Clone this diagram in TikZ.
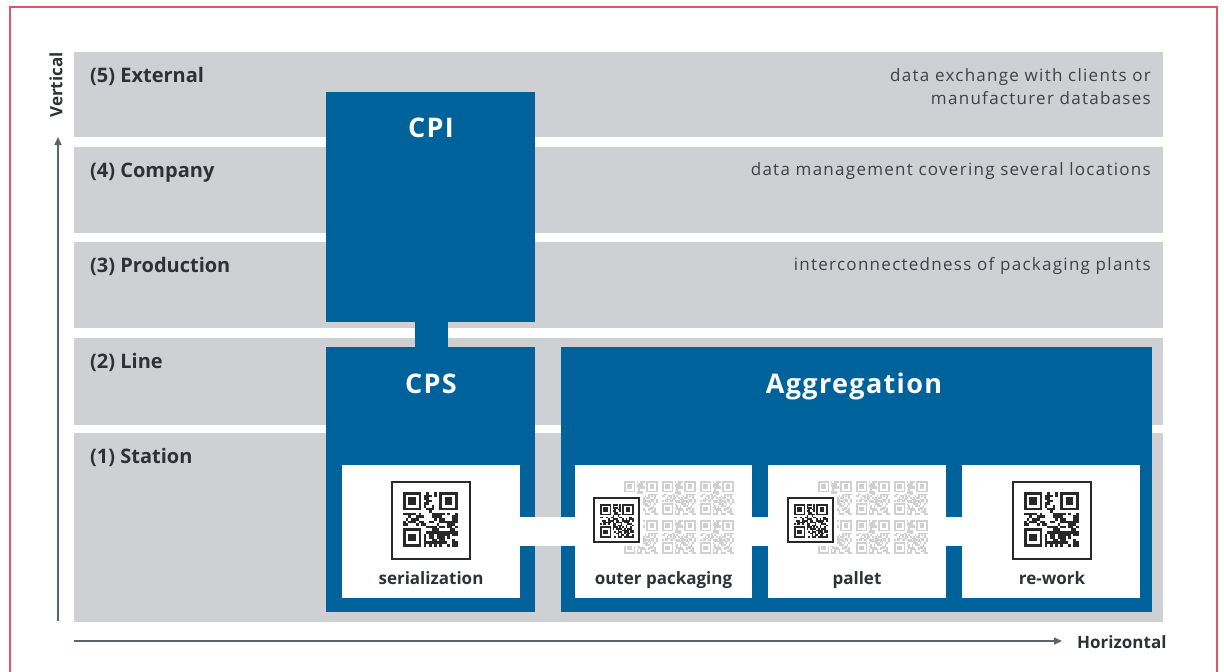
\documentclass[tikz,border=0pt]{standalone}
\usepackage{fontspec}
\setmainfont{Open Sans}
\newfontfamily\descfont[LetterSpace=7.5]{Open Sans}
\newfontfamily\titlefont[LetterSpace=5]{Open Sans}
\usetikzlibrary{arrows.meta}
\definecolor{bblue}{RGB}{0,98,155}
\definecolor{bandgray}{RGB}{206,208,211}
\definecolor{txtdark}{RGB}{46,50,54}
\definecolor{txtdesc}{RGB}{62,66,70}
\definecolor{axisc}{RGB}{90,100,110}
\definecolor{framered}{RGB}{222,84,104}
\definecolor{qrdark}{RGB}{40,40,40}
\definecolor{qrghost}{RGB}{208,208,208}
\tikzset{
  band/.style={fill=bandgray, draw=none, minimum width=1089, minimum height=#1, inner sep=0, outer sep=0},
  bluebox/.style={fill=bblue, draw=none, inner sep=0, outer sep=0},
  whitebox/.style={fill=white, draw=none, minimum width=177, minimum height=133, inner sep=0, outer sep=0},
  lvl/.style={font=\fontsize{20}{22}\selectfont\bfseries, text=txtdark, inner sep=0, anchor=base west},
  desc/.style={font=\descfont\fontsize{17}{23}\selectfont, text=txtdesc, inner sep=0, align=right},
  boxtitle/.style={font=\titlefont\fontsize{27}{30}\selectfont\bfseries, text=white, inner sep=0, anchor=base},
  boxcap/.style={font=\fontsize{17}{19}\selectfont\bfseries, text=txtdark, inner sep=0, anchor=base},
  axislbl/.style={font=\fontsize{17}{19}\selectfont\bfseries, text=txtdark, inner sep=0},
  axisline/.style={draw=axisc, line width=1.6, -{Triangle[length=8,width=7]}},
}
% #1 left x, #2 top y, #3 module size, #4 colour, #5 seed
\newcommand\qrmodules[5]{%
  \pgfmathsetseed{#5}%
  \begin{scope}[shift={(#1,#2)}]
    \foreach \qi in {0,...,20}{%
      \foreach \qj in {0,...,20}{%
        \pgfmathtruncatemacro\qrin{((\qi<8)&&(\qj<8))||((\qi>12)&&(\qj<8))||((\qi<8)&&(\qj>12))}%
        \pgfmathsetmacro\qrr{rnd}%
        \ifnum\qrin=0
          \ifdim\qrr pt<0.56pt
            \fill[#4] (\qi*#3,\qj*#3) rectangle ++(#3,#3);
          \fi
        \fi
      }%
    }%
    \foreach \fx/\fy in {0/0,14/0,0/14}{%
      \fill[#4] (\fx*#3,\fy*#3) rectangle ++(7*#3,7*#3);
      \fill[white] (\fx*#3+#3,\fy*#3+#3) rectangle ++(5*#3,5*#3);
      \fill[#4] (\fx*#3+2*#3,\fy*#3+2*#3) rectangle ++(3*#3,3*#3);
    }%
  \end{scope}%
}
\begin{document}
\begin{tikzpicture}[x=1pt,y=-1pt]
\useasboundingbox (0,0) rectangle (1224,672);
\fill[white] (0,0) rectangle (1224,672);
% outer red frame
\draw[framered, line width=1.5] (10,680) -- (10,7) -- (1217,7) -- (1217,680);

% bands
\node[band=85] (b5) at (618.5,94.5) {};
\node[band=86] (b4) at (618.5,190) {};
\node[band=86] (b3) at (618.5,284.5) {};
\node[band=87] (b2) at (618.5,381.5) {};
\node[band=189] (b1) at (618.5,527.5) {};

% level labels
\node[lvl] (l5) at (90,82) {(5) External};
\node[lvl] (l4) at (90,177) {(4) Company};
\node[lvl] (l3) at (90,272) {(3) Production};
\node[lvl] (l2) at (90,368) {(2) Line};
\node[lvl] (l1) at (90,463) {(1) Station};

% descriptions
\node[desc, anchor=north east] (d5) at (1151,68) {data exchange with clients or\\manufacturer databases};
\node[desc, anchor=base east] (d4) at (1151,175) {data management covering several locations};
\node[desc, anchor=base east] (d3) at (1151,270) {interconnectedness of packaging plants};

% blue boxes
\node[bluebox, minimum width=209, minimum height=230] (cpi) at (430.5,207) {};
\node[bluebox, minimum width=209, minimum height=265] (cps) at (430.5,479.5) {};
\node[bluebox, minimum width=591, minimum height=265] (agg) at (856.5,479.5) {};
\fill[bblue] ([xshift=-16]cpi.south) rectangle ([xshift=17]cps.north);

\node[boxtitle] (tcpi) at (431,137) {CPI};
\node[boxtitle] (tcps) at (431,393) {CPS};
\node[boxtitle] (tagg) at (854,393) {Aggregation};

% white boxes
\node[whitebox, minimum width=178] (ser) at (431,531.5) {};
\node[whitebox] (outer) at (663.5,531.5) {};
\node[whitebox, minimum width=178] (pal) at (857,531.5) {};
\node[whitebox, minimum width=178] (rew) at (1051,531.5) {};
\fill[white] ([yshift=-14]ser.east) rectangle ([yshift=15]outer.west);
\fill[white] ([yshift=-14]outer.east) rectangle ([yshift=15]pal.west);
\fill[white] ([yshift=-14]pal.east) rectangle ([yshift=15]rew.west);

% big QR codes
\draw[qrdark, line width=2] (392,482) rectangle (470,559);
\qrmodules{403}{492}{2.6}{qrdark}{11}
\draw[qrdark, line width=2] (1013,482) rectangle (1091,559);
\qrmodules{1024}{492}{2.6}{qrdark}{11}

% ghost codes + small QR: outer packaging
\foreach \gx in {0,1,2}{\foreach \gy in {0,1}{%
  \qrmodules{624+\gx*38}{481+\gy*39}{1.6}{qrghost}{23}}}
\fill[white] (590,494) rectangle (643,546);
\draw[qrdark, line width=2] (594,498) rectangle (639,542);
\qrmodules{600}{504}{1.6}{qrdark}{5}
% pallet
\foreach \gx in {0,1,2}{\foreach \gy in {0,1}{%
  \qrmodules{818+\gx*38}{481+\gy*39}{1.6}{qrghost}{23}}}
\fill[white] (784,494) rectangle (837,546);
\draw[qrdark, line width=2] (788,498) rectangle (833,542);
\qrmodules{794}{504}{1.6}{qrdark}{5}

% captions
\node[boxcap] (cser) at (431,584) {serialization};
\node[boxcap] (cout) at (663.5,584) {outer packaging};
\node[boxcap] (cpal) at (857,584) {pallet};
\node[boxcap] (crew) at (1052,584) {re-work};

% axes
\coordinate (vbot) at (58,621);
\coordinate (vtop) at (58,137);
\coordinate (hleft) at (74,641);
\coordinate (hright) at (1062,641);
\draw[axisline] (vbot) -- (vtop);
\draw[axisline] (hleft) -- (hright);
\node[axislbl, rotate=90] (vlab) at (56,85) {Vertical};
\node[axislbl, anchor=west] (hlab) at (1077,642) {Horizontal};
\end{tikzpicture}
\end{document}
